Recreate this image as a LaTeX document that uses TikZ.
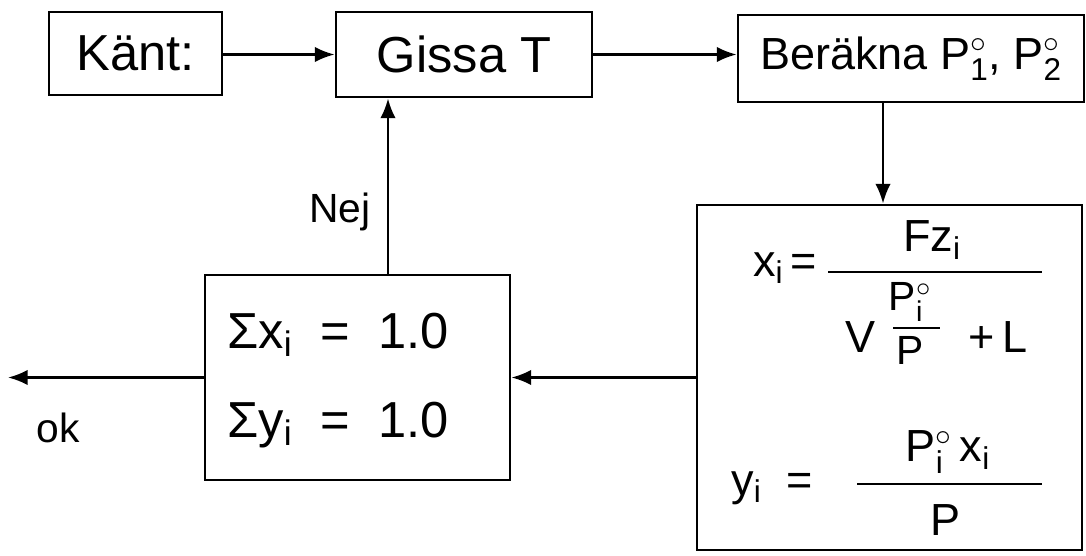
\RequirePackage{fix-cm}
\documentclass[tikz,border=0pt]{standalone}
\usepackage{fontspec}
\setmainfont{Liberation Sans}
\setsansfont{Liberation Sans}
\usetikzlibrary{arrows.meta}
\newcommand\pxu{0.025cm}
\newcommand\fbig{\fontsize{36}{40}\selectfont}
\newcommand\fmid{\fontsize{32}{36}\selectfont}
\newcommand\fsml{\fontsize{29}{33}\selectfont}
\newcommand\sv[1]{\mathsf{#1}}
\newcommand\sub[1]{$_{\sv{#1}}$}
\newcommand\supsub[1]{$^{\circ}_{\sv{#1}}$}
\begin{document}
\begin{tikzpicture}[x=0.025cm,y=-0.025cm,
  box/.style={draw,line width=2pt,inner sep=0pt},
  link/.style={line width=1.8pt,-{Latex[length=14pt,width=11pt]}},
  txt/.style={inner sep=0pt},
  bar/.style={line width=1.6pt}]
\useasboundingbox[fill=white] (0,0) rectangle (1086,555);

% process boxes
\node[box,font=\fbig,minimum width=173*\pxu,minimum height=83*\pxu] (known) at (135.5,53.5) {Känt:};
\node[box,font=\fbig,minimum width=256*\pxu,minimum height=85*\pxu] (guess) at (464,54.5) {Gissa T};
\node[box,font=\fmid,minimum width=346*\pxu,minimum height=87*\pxu] (calc) at (911,58.5)
  {Beräkna P\supsub{1}, P\supsub{2}};
\node[box,minimum width=385*\pxu,minimum height=345*\pxu] (formula) at (889.5,377.5) {};
\node[box,minimum width=305*\pxu,minimum height=205*\pxu] (sum) at (357.5,377.5) {};

% equilibrium relations
\node[txt,font=\fmid] (xlhs) at (785,268) {x\sub{i}\,=};
\draw[bar] (828,272) -- (1042,272);
\node[txt,font=\fmid] (xnum) at (932,240) {Fz\sub{i}};
\node[txt,font=\fmid] (xv) at (860,337) {V};
\node[txt,font=\fsml] (pnum) at (910,302) {P\supsub{i}};
\draw[bar] (893,328) -- (940,328);
\node[txt,font=\fsml] (pden) at (910,350) {P};
\node[txt,font=\fmid] (xl) at (998,337) {+\,L};

\node[txt,font=\fmid] (ylhs) at (772,488) {y\sub{i}\;\;=};
\draw[bar] (857,484) -- (1042,484);
\node[txt,font=\fmid] (ynum) at (948,452) {P\supsub{i}\,x\sub{i}};
\node[txt,font=\fmid] (yden) at (945,520) {P};

% convergence test
\node[txt,font=\fbig] (sx) at (338,335) {Σx\sub{i}\; =\; 1.0};
\node[txt,font=\fbig] (sy) at (338,425) {Σy\sub{i}\; =\; 1.0};

% connectors
\coordinate (out) at (8,377.5);
\draw[link] (known.east |- guess.west) -- (guess.west);
\draw[link] (guess.east) -- (guess.east -| calc.west);
\draw[link] ([xshift=-28*\pxu]calc.south) -- ([xshift=-28*\pxu]calc.south |- formula.north);
\draw[link] (formula.west) -- (sum.east);
\draw[link] ([xshift=30.5*\pxu]sum.north) -- ([xshift=30.5*\pxu]sum.north |- guess.south);
\draw[link] (sum.west) -- (out);

% branch labels
\node[txt,font=\fsml] (no) at (340,212) {Nej};
\node[txt,font=\fsml] (yes) at (58,428) {ok};
\end{tikzpicture}
\end{document}
